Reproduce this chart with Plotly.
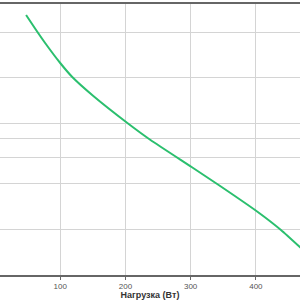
import plotly.graph_objects as go

load_w = [47.7, 62, 76.9, 100, 118.5, 150.8, 203, 238.5, 301.5, 343, 403, 438.5, 469]
runtime = [260, 246, 232, 212, 198, 179, 152, 135, 108, 90, 63, 45, 27]
x_ticks = [100, 200, 300, 400]
y_grid = [46, 92, 118, 137, 152, 198, 243]

fig = go.Figure()
fig.add_trace(go.Scatter(x=load_w, y=runtime, mode="lines", line=dict(color="#2bbf6e", width=2, shape="spline", smoothing=0.5)))
fig.update_layout(
    width=300, height=300, margin=dict(l=0, r=0, t=4, b=25),
    paper_bgcolor="white", plot_bgcolor="white", showlegend=False,
    font=dict(family="Liberation Sans, Arial", color="#444"),
    xaxis=dict(range=[7.7, 467.7], tickvals=x_ticks, ticktext=[str(v) for v in x_ticks],
               showgrid=True, gridcolor="#d4d4d4", gridwidth=1,
               showline=True, linecolor="#666", linewidth=1.5, mirror=True,
               ticks="outside", ticklen=3, tickcolor="#666", tickfont=dict(size=8, color="#555"),
               title=dict(text="<b>Нагрузка (Вт)</b>", font=dict(size=9, color="#333"), standoff=2),
               zeroline=False),
    yaxis=dict(range=[0, 271], tickvals=y_grid, showticklabels=False, showgrid=True,
               gridcolor="#d4d4d4", gridwidth=1, showline=False, zeroline=False),
)
fig.write_html("out.html")
